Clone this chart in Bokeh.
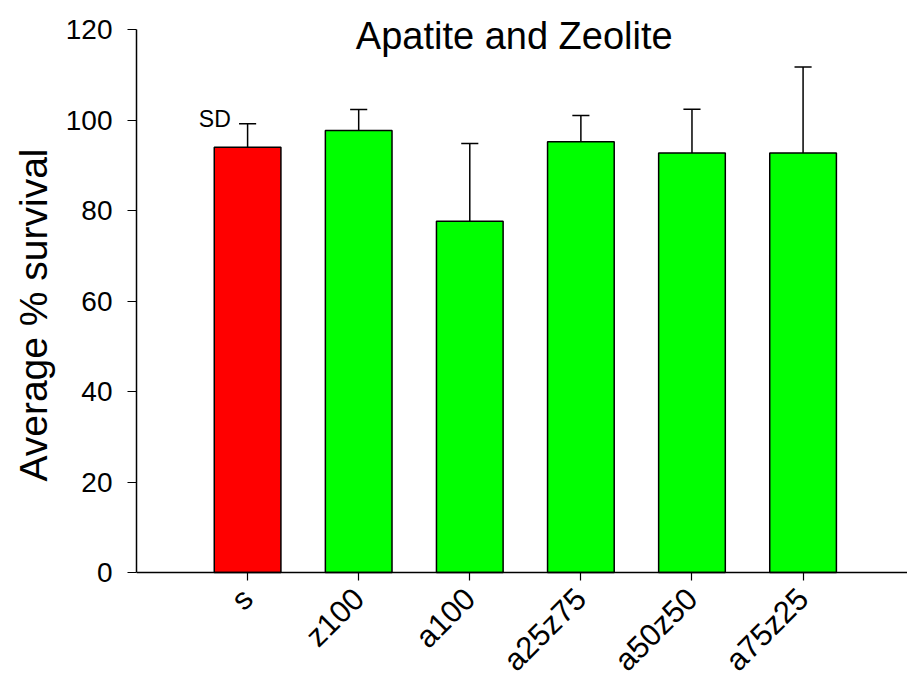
import math
from bokeh.plotting import figure
from bokeh.models import ColumnDataSource, FixedTicker, Range1d, Label, Title
from bokeh.embed import file_html
from bokeh.resources import INLINE

categories = ["s", "z100", "a100", "a25z75", "a50z50", "a75z25"]
mean_survival = [94.0, 97.7, 77.6, 95.2, 92.7, 92.7]
sd_survival = [5.2, 4.6, 17.2, 5.8, 9.7, 19.0]
bar_colors = ["#FF0000", "#00FF00", "#00FF00", "#00FF00", "#00FF00", "#00FF00"]
y_ticks = [0, 20, 40, 60, 80, 100, 120]

FONT = "Liberation Sans"

xs = list(range(len(categories)))
tops = [m + s for m, s in zip(mean_survival, sd_survival)]
cap_half = 0.077

src = ColumnDataSource(dict(
    x=xs, top=mean_survival, err=tops, color=bar_colors,
    x0=[x - cap_half for x in xs], x1=[x + cap_half for x in xs],
))

p = figure(width=907, height=677, output_backend="svg", toolbar_location=None,
           x_range=Range1d(-1, 5.94), y_range=Range1d(-23.2, 126.41),
           min_border_left=136, min_border_right=0, min_border_top=0,
           min_border_bottom=0)
p.outline_line_color = None
p.xgrid.visible = False
p.ygrid.visible = False
p.background_fill_color = "white"
p.border_fill_color = "white"

p.vbar(x="x", top="top", bottom=0, width=0.6, fill_color="color",
       line_color="black", line_width=1.5, source=src)
p.segment(x0="x", y0="top", x1="x", y1="err", line_color="black", line_width=1.5, source=src)
p.segment(x0="x0", y0="err", x1="x1", y1="err", line_color="black", line_width=1.5, source=src)

# axes
p.xaxis.fixed_location = 0
p.xaxis.ticker = FixedTicker(ticks=xs)
p.xaxis.major_label_overrides = {i: c for i, c in zip(xs, categories)}
p.xaxis.major_label_orientation = math.pi / 4
p.xaxis.minor_tick_line_color = None
p.xaxis.major_tick_in = 0
p.xaxis.major_tick_out = 8
p.xaxis.axis_line_width = 1.5
p.xaxis.major_tick_line_width = 1.2
p.xaxis.major_label_text_font = FONT
p.xaxis.major_label_text_font_size = "31px"
p.xaxis.major_label_text_color = "black"
p.xaxis.major_label_standoff = 13

p.yaxis.bounds = (0, 120)
p.yaxis.ticker = FixedTicker(ticks=y_ticks)
p.yaxis.minor_tick_line_color = None
p.yaxis.major_tick_in = 0
p.yaxis.major_tick_out = 9
p.yaxis.axis_line_width = 1.5
p.yaxis.major_tick_line_width = 1.2
p.yaxis.major_label_text_font = FONT
p.yaxis.major_label_text_font_size = "28px"
p.yaxis.major_label_text_color = "black"
p.yaxis.major_label_standoff = 15

ylab = Title(text="Average % survival", align="right", offset=148, standoff=12,
             vertical_align="top",
             text_font=FONT, text_font_size="39px", text_font_style="normal",
             text_color="black")
p.add_layout(ylab, "left")

title = Label(x=2.40, y=120, y_offset=-6, text="Apatite and Zeolite",
              text_font=FONT, text_font_size="38px", text_align="center",
              text_baseline="alphabetic", text_color="black")
p.add_layout(title)

sd_label = Label(x=-0.295, y=100.3, text="SD", text_font=FONT, text_font_size="23px",
                 text_align="center", text_baseline="alphabetic", text_color="black")
p.add_layout(sd_label)

open("out.html", "w").write(file_html(p, INLINE))
